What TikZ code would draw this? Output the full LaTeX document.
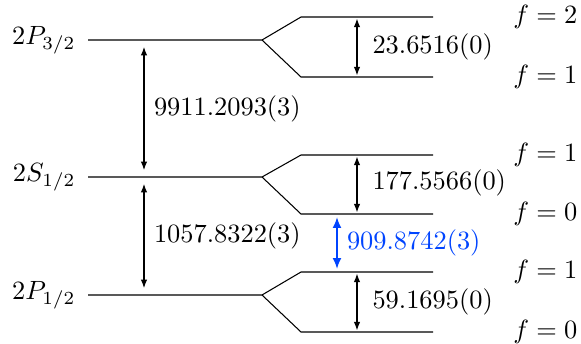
\documentclass[tikz,border=0pt]{standalone}
\usetikzlibrary{arrows.meta}
\definecolor{lblue}{RGB}{0,68,255}
\begin{document}
\begin{tikzpicture}[x=0.3788pt,y=-0.3788pt,
  every node/.style={font=\normalsize, inner sep=0pt},
  lvl/.style={line width=0.4pt, line join=miter},
  gap/.style={line width=0.4pt, {Latex[length=3.2pt,width=2.4pt]}-{Latex[length=3.2pt,width=2.4pt]}},
  biggap/.style={gap, shorten <=2.6pt, shorten >=2.6pt},
  hfgap/.style={gap, shorten <=0.6pt, shorten >=0.6pt},
  bluegap/.style={line width=0.75pt, lblue, {Latex[length=4.2pt,width=3.4pt]}-{Latex[length=4.2pt,width=3.4pt]}, shorten <=1.1pt, shorten >=1.1pt},
  lab/.style={anchor=west},
  flab/.style={anchor=east}]
\useasboundingbox (0,0) rectangle (581,344);
% levels
\foreach \n/\y/\u/\l in {P3/40/17/77, S/177/155/214, P1/295/272/332}{
  \coordinate (\n a) at (88,\y);
  \coordinate (\n b) at (262,\y);
  \coordinate (\n u1) at (301,\u);
  \coordinate (\n u2) at (433,\u);
  \coordinate (\n l1) at (301,\l);
  \coordinate (\n l2) at (433,\l);
  \draw[lvl] (\n a) -- (\n b) -- (\n u1) -- (\n u2);
  \draw[lvl] (\n b) -- (\n l1) -- (\n l2);
}
% left labels
\node[anchor=east] (lP3) at (76,40) {$2P_{3/2}$};
\node[anchor=east] (lS) at (76,177) {$2S_{1/2}$};
\node[anchor=east] (lP1) at (76,295) {$2P_{1/2}$};
% main gaps
\coordinate (g1t) at (144,40);  \coordinate (g1b) at (144,177);
\coordinate (g2t) at (144,177); \coordinate (g2b) at (144,295);
\draw[biggap] (g1t) -- (g1b);
\draw[biggap] (g2t) -- (g2b);
\node[lab] (t1) at (153.5,108.5) {$9911.2093(3)$};
\node[lab] (t2) at (153.5,236) {$1057.8322(3)$};
% hyperfine gaps
\coordinate (h1t) at (357,17);  \coordinate (h1b) at (357,77);
\coordinate (h2t) at (357,155); \coordinate (h2b) at (357,214);
\coordinate (h3t) at (357,272); \coordinate (h3b) at (357,332);
\draw[hfgap] (h1t) -- (h1b);
\draw[hfgap] (h2t) -- (h2b);
\draw[hfgap] (h3t) -- (h3b);
\node[lab] (t3) at (372,47) {$23.6516(0)$};
\node[lab] (t4) at (372,183) {$177.5566(0)$};
\node[lab] (t5) at (372,302) {$59.1695(0)$};
% blue gap
\coordinate (bt) at (337,214); \coordinate (bb) at (337,272);
\draw[bluegap] (bt) -- (bb);
\node[lab, text=lblue] (t6) at (346.5,243) {$909.8742(3)$};
% f labels
\node[flab] (f1) at (578,17) {$f=2$};
\node[flab] (f2) at (578,77) {$f=1$};
\node[flab] (f3) at (578,155) {$f=1$};
\node[flab] (f4) at (578,214) {$f=0$};
\node[flab] (f5) at (578,272) {$f=1$};
\node[flab] (f6) at (578,332) {$f=0$};
\end{tikzpicture}
\end{document}
